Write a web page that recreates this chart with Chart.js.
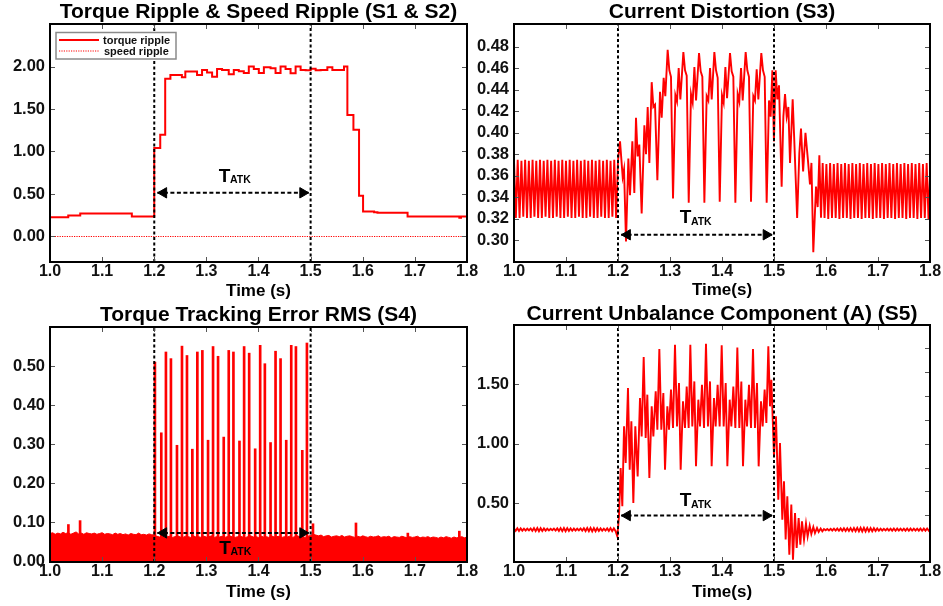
<!DOCTYPE html>
<html>
<head>
<meta charset="utf-8">
<script src="https://cdn.jsdelivr.net/npm/chart.js@4.4.1/dist/chart.umd.min.js"></script>
<style>
html,body{margin:0;padding:0;background:#fff;}
body{width:943px;height:606px;position:relative;overflow:hidden;}
canvas{position:absolute;display:block;}
</style>
</head>
<body>
<canvas id="c1" width="490" height="300" style="left:0;top:0"></canvas>
<canvas id="c2" width="473" height="300" style="left:470px;top:0"></canvas>
<canvas id="c3" width="490" height="306" style="left:0;top:300px"></canvas>
<canvas id="c4" width="473" height="306" style="left:470px;top:300px"></canvas>
<script>
// ---------------- data ----------------
const xTicks = [1.0, 1.1, 1.2, 1.3, 1.4, 1.5, 1.6, 1.7, 1.8];
const attackStart = 1.2;
const attackEnd = 1.5;

// S1 torque ripple (stepped) and S2 speed ripple
const s1Time = [1.0,1.035,1.058,1.157,1.2,1.2115,1.221,1.231,1.253,1.2596,1.2821,1.2917,1.3013,1.311,1.3205,1.3301,1.3429,1.3526,1.3622,1.3718,1.3814,1.391,1.4006,1.4103,1.4231,1.4327,1.4423,1.4519,1.4615,1.4712,1.4808,1.4904,1.5,1.5096,1.5192,1.5321,1.5417,1.564,1.5705,1.5821,1.5929,1.6006,1.6218,1.6282,1.686,1.7853,1.7885,1.8];
const s1Torque = [0.227,0.247,0.27,0.235,1.04,1.196,1.855,1.90,1.875,1.94,1.90,1.96,1.93,1.88,1.97,1.96,1.91,1.96,1.945,1.925,2.00,1.97,1.925,1.99,1.98,1.925,2.00,1.97,1.92,2.00,1.96,1.955,1.975,1.955,1.96,1.99,1.96,2.0,1.43,1.255,0.478,0.294,0.286,0.278,0.235,0.22,0.235,0.235];
const s2Time = [1.0, 1.8];
const s2Speed = [0, 0];
const s1YTicks = [0, 0.5, 1.0, 1.5, 2.0];

// S3 current distortion
const s3Step = 0.00357;
const s3PreStart = 1.0;
const s3PreVals = [0.374,0.321,0.375,0.321,0.374,0.322,0.375,0.321,0.374,0.321,0.375,0.322,0.374,0.321,0.375,0.321,0.374,0.322,0.375,0.321,0.374,0.321,0.375,0.322,0.374,0.321,0.375,0.321,0.374,0.322,0.375,0.321,0.374,0.321,0.375,0.322,0.374,0.321,0.375,0.321,0.374,0.322,0.375,0.321,0.374,0.321,0.375,0.322,0.374,0.321,0.375,0.321,0.374,0.322,0.375,0.321];
const s3AtkTime = [1.2000,1.2039,1.2090,1.2116,1.2154,1.2199,1.2231,1.2276,1.2314,1.2346,1.2378,1.2410,1.2455,1.2507,1.2539,1.2571,1.2603,1.2648,1.2680,1.2712,1.2757,1.2808,1.2840,1.2878,1.2910,1.2955,1.2987,1.3019,1.3058,1.3103,1.3135,1.3167,1.3199,
1.3257,1.3289,1.3321,1.3360,1.3404,1.3436,1.3469,1.3501,
1.3558,1.3590,1.3622,1.3661,1.3705,1.3737,1.3770,1.3802,
1.3853,1.3885,1.3917,1.3956,1.4000,1.4032,1.4065,1.4097,
1.4154,1.4186,1.4218,1.4257,1.4301,1.4333,1.4366,1.4398,
1.4455,1.4487,1.4519,1.4558,1.4602,1.4634,1.4667,1.4699,
1.4756,1.4788,1.4821,1.4859,1.4904,1.4936,1.4968,
1.4999,1.5032,1.5064,1.5096,1.5147,1.5180,1.5212,1.5244,1.5276,1.5308,1.5359,1.5390,1.5445,1.5487,1.5519,1.5560,1.5605,1.5650,1.5692,1.5720,1.5756,1.5808,1.5840,1.5872,1.5904,1.5936];
const s3AtkVals = [0.374,0.392,0.359,0.366,0.299,0.376,0.342,0.392,0.344,0.414,0.378,0.389,0.325,0.407,0.380,0.424,0.372,0.447,0.424,0.426,0.356,0.438,0.414,0.451,0.434,0.477,0.458,0.452,0.339,0.435,0.429,0.460,0.431,
0.475,0.458,0.453,0.335,0.436,0.428,0.461,0.430,
0.474,0.457,0.452,0.335,0.434,0.430,0.460,0.431,
0.475,0.458,0.451,0.336,0.435,0.428,0.461,0.432,
0.474,0.457,0.452,0.335,0.436,0.429,0.460,0.430,
0.475,0.458,0.452,0.336,0.434,0.430,0.459,0.431,
0.474,0.458,0.452,0.335,0.430,0.415,0.458,
0.392,0.458,0.431,0.444,0.350,0.415,0.436,0.415,0.424,0.372,0.431,0.393,0.321,0.381,0.404,0.364,0.400,0.376,0.352,0.372,0.289,0.350,0.331,0.379,0.321,0.372];
const s3PostStart = 1.5972;
const s3PostVals = [0.321,0.371,0.320,0.372,0.321,0.371,0.321,0.372,0.320,0.371,0.321,0.372,0.321,0.371,0.320,0.372,0.321,0.371,0.321,0.372,0.320,0.371,0.321,0.372,0.321,0.371,0.320,0.372,0.321,0.371,0.321,0.372,0.320,0.371,0.321,0.372,0.321,0.371,0.320,0.372,0.321,0.371,0.321,0.372,0.320,0.371,0.321,0.372,0.321,0.371,0.320,0.372,0.321,0.371,0.321,0.372,0.320,0.371];
const s3YTicks = [0.30,0.32,0.34,0.36,0.38,0.40,0.42,0.44,0.46,0.48];

// S4 torque tracking error RMS: noise band envelope + spikes
const s4BandStart = 1.0;
const s4BandStep = 0.005;
const s4BandVals = [0.071,0.073,0.069,0.072,0.070,0.074,0.071,0.073,0.069,0.072,
0.075,0.070,0.072,0.069,0.073,0.071,0.070,0.072,0.069,0.071,
0.073,0.069,0.071,0.070,0.068,0.072,0.069,0.071,0.068,0.070,
0.067,0.071,0.069,0.068,0.072,0.068,0.069,0.067,0.070,0.068,
0.067,
0.064,0.062,0.065,0.061,0.063,0.064,0.061,0.063,0.065,0.062,
0.061,0.064,0.063,0.061,0.065,0.062,0.063,0.061,0.064,0.062,
0.063,0.065,0.061,0.063,0.062,0.064,0.061,0.063,0.065,0.062,
0.061,0.063,0.064,0.062,0.061,0.063,0.065,0.062,0.063,0.061,
0.064,0.062,0.063,0.061,0.065,0.062,0.063,0.064,0.061,0.063,
0.062,0.064,0.061,0.063,0.065,0.062,0.063,0.061,0.064,0.066,
0.069,0.067,0.065,0.067,0.063,0.065,0.066,0.062,0.064,0.065,
0.063,0.066,0.062,0.064,0.065,0.063,0.061,0.064,0.062,0.065,
0.063,0.061,0.064,0.062,0.063,0.065,0.061,0.063,0.062,0.064,
0.060,0.063,0.062,0.061,0.064,0.062,0.060,0.063,0.061,0.062,
0.064,0.060,0.062,0.061,0.063,0.060,0.062,0.061,0.059,0.062,
0.060,0.063,0.061,0.059,0.062,0.060,0.061,0.063,0.060,0.062];
const s4SpikeTime = [1.0353,1.0577,1.2013,1.2135,1.2224,1.2320,1.2436,1.2532,1.2628,1.2731,1.2827,1.2923,1.3032,1.3128,1.3224,1.3333,1.3429,1.3519,1.3635,1.3724,1.3821,1.3936,1.4032,1.4122,1.4231,1.4327,1.4423,1.4532,1.4628,1.4718,1.4840,1.4929,1.5045,1.5870,1.6865,1.7853];
const s4SpikeVals = [0.094,0.104,0.510,0.329,0.536,0.519,0.297,0.551,0.527,0.287,0.536,0.540,0.310,0.550,0.525,0.318,0.540,0.536,0.308,0.550,0.533,0.288,0.553,0.506,0.304,0.538,0.519,0.310,0.553,0.550,0.284,0.559,0.096,0.098,0.072,0.077];
const s4YTicks = [0.0, 0.1, 0.2, 0.3, 0.4, 0.5];

// S5 current unbalance component
const s5Step = 0.0032;
const s5PreStart = 1.0;
const s5PreVals = [0.289,0.270,0.291,0.268,0.290,0.271,0.288,0.272,0.287,0.273,0.289,0.270,0.292,0.267,0.293,0.266,0.291,0.268,0.289,0.271,0.287,0.273,0.286,0.274,0.288,0.272,0.290,0.269,0.292,0.267,0.293,0.266,0.292,0.268,0.290,0.270,0.288,0.272,0.287,0.273,0.289,0.271,0.291,0.268,0.293,0.266,0.294,0.265,0.293,0.266,0.291,0.268,0.289,0.271,0.288,0.272,0.290,0.269,0.292,0.267,0.291,0.268];
const s5AtkTime = [1.1987,1.2019,1.2051,1.2083,1.2116,1.2148,1.2192,1.2225,1.2257,1.2295,1.2333,1.2378,1.2423,1.2455,1.2494,1.2532,1.2564,1.2603,1.2648,1.2680,1.2725,1.2757,1.2795,1.2833,1.2872,1.2904,1.2949,1.2981,1.3019,1.3058,1.3096,1.3135,1.3173,1.3205,
1.3250,1.3288,1.3321,1.3359,
1.3391,1.3429,1.3468,1.3500,1.3545,1.3577,1.3615,1.3654,
1.3692,1.3730,1.3769,1.3801,1.3846,1.3878,1.3916,1.3955,
1.3994,1.4032,1.4071,1.4103,1.4148,1.4180,1.4218,1.4257,
1.4295,1.4333,1.4372,1.4404,1.4449,1.4481,1.4519,1.4558,
1.4596,1.4634,1.4673,1.4705,1.4750,1.4782,1.4820,1.4853,
1.4891,1.4923,1.4949,
1.5000,1.5038,1.5083,1.5115,1.5160,1.5192,1.5224,1.5256,1.5295,1.5333,1.5365,1.5404,1.5436,1.5474,1.5506,1.5538,1.5577,1.5615,1.5647,1.5686,1.5718,1.5756,1.5788,1.5827,1.5859,1.5897,1.5929];
const s5AtkVals = [0.223,0.391,0.796,0.475,1.145,0.838,1.466,0.782,1.187,0.503,1.145,0.726,1.383,1.061,1.726,1.047,1.411,0.712,1.313,1.061,1.439,1.117,1.793,1.117,1.425,0.782,1.313,1.117,1.453,1.131,1.830,1.145,1.508,0.782,
1.355,1.131,1.480,1.131,
1.830,1.145,1.522,0.810,1.369,1.145,1.494,1.131,
1.838,1.145,1.522,0.810,1.383,1.145,1.494,1.145,
1.824,1.145,1.508,0.810,1.369,1.145,1.480,1.131,
1.807,1.131,1.522,0.810,1.369,1.145,1.494,1.131,
1.793,1.131,1.508,0.810,1.355,1.145,1.453,1.173,
1.816,1.313,1.536,
0.894,1.229,0.531,1.006,0.363,0.684,0.196,0.559,0.070,0.489,0.028,0.419,0.126,0.377,0.154,0.349,0.196,0.330,0.223,0.313,0.243,0.302,0.251,0.293,0.260,0.288,0.265];
const s5PostStart = 1.5961;
const s5PostVals = [0.284,0.274,0.285,0.273,0.286,0.272,0.287,0.271,0.288,0.270,0.289,0.269,0.290,0.268,0.291,0.268,0.292,0.267,0.293,0.266,0.294,0.265,0.295,0.264,0.295,0.264,0.294,0.265,0.293,0.266,0.291,0.268,0.289,0.270,0.287,0.272,0.286,0.273,0.287,0.272,0.288,0.271,0.289,0.270,0.288,0.271,0.287,0.272,0.288,0.271,0.289,0.270,0.288,0.271,0.287,0.272,0.288,0.271,0.289,0.270,0.288,0.271,0.289,0.270,0.288];
const s5YTicks = [0.5, 1.0, 1.5];
const s5MinorTicks = [0.4, 0.6, 0.8, 1.0, 1.2, 1.4, 1.6, 1.8];

// ---------------- helpers ----------------
const FONT = "'Liberation Sans', Arial, Helvetica, sans-serif";
const RED = '#ff0000';
const seq = (start, step, vals) => vals.map((v, i) => ({x: start + i * step, y: v}));
const pairs = (ts, vs) => ts.map((t, i) => ({x: t, y: vs[i]}));

function decor(o) {
  return {
    id: 'decor',
    afterDraw(chart) {
      const ctx = chart.ctx, a = chart.chartArea, xs = chart.scales.x, ys = chart.scales.y;
      ctx.save();
      // inward tick marks
      ctx.strokeStyle = '#555'; ctx.lineWidth = 1; ctx.setLineDash([]);
      ctx.beginPath();
      xTicks.forEach(v => {
        const px = Math.round(xs.getPixelForValue(v)) + 0.5;
        ctx.moveTo(px, a.bottom); ctx.lineTo(px, a.bottom - 5);
        ctx.moveTo(px, a.top); ctx.lineTo(px, a.top + 5);
      });
      o.yTicks.forEach(v => {
        const py = Math.round(ys.getPixelForValue(v)) + 0.5;
        ctx.moveTo(a.left, py); ctx.lineTo(a.left + 5, py);
      });
      (o.rightTicks || o.yTicks).forEach(v => {
        const py = Math.round(ys.getPixelForValue(v)) + 0.5;
        ctx.moveTo(a.right, py); ctx.lineTo(a.right - 5, py);
      });
      ctx.stroke();
      // T_ATK label
      const tx = xs.getPixelForValue(o.labelX), ty = ys.getPixelForValue(o.labelY);
      ctx.fillStyle = '#000'; ctx.textBaseline = 'alphabetic'; ctx.textAlign = 'left';
      ctx.font = 'bold 19px ' + FONT; const wT = ctx.measureText('T').width;
      ctx.font = 'bold 10.5px ' + FONT; const wS = ctx.measureText('ATK').width;
      const x0 = tx - (wT + wS) / 2;
      ctx.font = 'bold 19px ' + FONT; ctx.fillText('T', x0, ty);
      ctx.font = 'bold 10.5px ' + FONT; ctx.fillText('ATK', x0 + wT - 0.5, ty + 1.5);
      // legend (panel 1)
      if (o.legend) {
        const lx = a.left + 6, ly = a.top + 8.5;
        ctx.fillStyle = '#fff'; ctx.fillRect(lx, ly, 120, 26.5);
        ctx.strokeStyle = '#8a8a8a'; ctx.lineWidth = 1.5; ctx.strokeRect(lx, ly, 120, 26.5);
        ctx.strokeStyle = RED; ctx.lineWidth = 2; ctx.beginPath();
        ctx.moveTo(lx + 3, ly + 7.5); ctx.lineTo(lx + 43, ly + 7.5); ctx.stroke();
        ctx.lineWidth = 1.2; ctx.setLineDash([1.2, 1.2]); ctx.beginPath();
        ctx.moveTo(lx + 3, ly + 18.5); ctx.lineTo(lx + 43, ly + 18.5); ctx.stroke();
        ctx.setLineDash([]);
        ctx.fillStyle = '#111'; ctx.font = 'bold 11px ' + FONT; ctx.textBaseline = 'middle';
        ctx.fillText(o.legend[0], lx + 47, ly + 8);
        ctx.fillText(o.legend[1], lx + 48, ly + 19);
      }
      // frame
      ctx.strokeStyle = '#000'; ctx.lineWidth = 2; ctx.setLineDash([]);
      ctx.strokeRect(a.left, a.top, a.right - a.left, a.bottom - a.top);
      ctx.restore();
    }
  };
}

function build(id, o) {
  const ann = [
    {data: [{x: attackStart, y: o.yMin}, {x: attackStart, y: o.yMax}], borderColor: '#000', borderWidth: 2, borderDash: [3, 2.5], pointRadius: 0, order: 0},
    {data: [{x: attackEnd, y: o.yMin}, {x: attackEnd, y: o.yMax}], borderColor: '#000', borderWidth: 2, borderDash: [3, 2.5], pointRadius: 0, order: 0},
    {data: [{x: 1.206, y: o.arrowY}, {x: 1.496, y: o.arrowY}], borderColor: '#000', borderWidth: 2, borderDash: [4, 2.5], pointRadius: 0, order: 0},
    {data: [{x: 1.218, y: o.arrowY}, {x: 1.485, y: o.arrowY}], showLine: false, pointStyle: 'triangle', pointRadius: 6, pointRotation: [270, 90], pointBackgroundColor: '#000', pointBorderColor: '#000', pointBorderWidth: 1, order: 0}
  ];
  const xTickFont = {family: FONT, size: 16, weight: 'bold', lineHeight: 1};
  const yTickFont = {family: FONT, size: 16.5, weight: 'bold', lineHeight: 1};
  return new Chart(document.getElementById(id), {
    type: 'line',
    data: {datasets: o.series.concat(ann)},
    options: {
      responsive: false, animation: false, events: [],
      layout: {padding: o.pad},
      elements: {line: {tension: 0}},
      plugins: {
        legend: {display: false}, tooltip: {enabled: false},
        title: {display: true, text: o.title, fullSize: false, color: '#000',
          font: {family: FONT, size: 21, weight: 'bold', lineHeight: 1}, padding: o.titlePad}
      },
      scales: {
        x: {type: 'linear', min: 1.0, max: 1.8, offset: false,
          afterBuildTicks: s => { s.ticks = xTicks.map(v => ({value: v})); },
          ticks: {autoSkip: false, maxRotation: 0, padding: 2, color: '#111', font: xTickFont, callback: v => Number(v).toFixed(1)},
          grid: {display: false, drawTicks: false}, border: {display: false},
          title: {display: true, text: o.xTitle, color: '#000', font: {family: FONT, size: 17, weight: 'bold', lineHeight: 1}, padding: {top: 0, bottom: o.xTitlePadB}},
          afterFit: s => { s.height = o.xH; s.paddingLeft = 0; s.paddingRight = 0; }
        },
        y: {type: 'linear', min: o.yMin, max: o.yMax,
          afterBuildTicks: s => { s.ticks = o.yTicks.map(v => ({value: v})); },
          ticks: {autoSkip: false, padding: 5, color: '#111', font: yTickFont, callback: v => Number(v).toFixed(2)},
          grid: {display: false, drawTicks: false}, border: {display: false},
          afterFit: s => { s.width = o.yW; s.paddingTop = 0; s.paddingBottom = 0; }
        }
      }
    },
    plugins: [decor(o)]
  });
}

// ---------------- panels ----------------
build('c1', {
  title: 'Torque Ripple & Speed Ripple (S1 & S2)', titlePad: {top: 2, bottom: 1},
  xTitle: 'Time (s)', xTitlePadB: 0, xH: 38, yW: 50, pad: {left: 0, right: 23, top: 0, bottom: 0},
  yMin: -0.3, yMax: 2.5, yTicks: s1YTicks,
  arrowY: 0.514, labelX: 1.355, labelY: 0.643,
  legend: ['torque ripple', 'speed ripple'],
  series: [
    {label: 'torque ripple', data: pairs(s1Time, s1Torque), stepped: true, borderColor: RED, borderWidth: 2, pointRadius: 0, order: 10},
    {label: 'speed ripple', data: pairs(s2Time, s2Speed), borderColor: RED, borderWidth: 1.2, borderDash: [1.2, 1.2], pointRadius: 0, order: 10}
  ]
});

build('c2', {
  title: 'Current Distortion (S3)', titlePad: {top: 2, bottom: 1},
  xTitle: 'Time(s)', xTitlePadB: 1, xH: 38, yW: 44, pad: {left: 0, right: 13, top: 0, bottom: 0},
  yMin: 0.28, yMax: 0.501, yTicks: s3YTicks,
  arrowY: 0.3053, labelX: 1.35, labelY: 0.3161,
  series: [
    {label: 'S3', data: seq(s3PreStart, s3Step, s3PreVals).concat(pairs(s3AtkTime, s3AtkVals), seq(s3PostStart, s3Step, s3PostVals)),
     borderColor: RED, borderWidth: 1.9, pointRadius: 0, order: 10}
  ]
});

build('c3', {
  title: 'Torque Tracking Error RMS (S4)', titlePad: {top: 5, bottom: 1},
  xTitle: 'Time (s)', xTitlePadB: 5, xH: 44, yW: 50, pad: {left: 0, right: 23, top: 0, bottom: 0},
  yMin: -0.002, yMax: 0.6, yTicks: s4YTicks,
  arrowY: 0.0725, labelX: 1.356, labelY: 0.0196,
  series: [
    {label: 'S4 band', data: seq(s4BandStart, s4BandStep, s4BandVals), fill: 'origin', backgroundColor: RED, borderColor: RED, borderWidth: 1, pointRadius: 0, order: 10},
    {type: 'bar', label: 'S4 spikes', data: pairs(s4SpikeTime, s4SpikeVals), backgroundColor: RED, borderWidth: 0, barThickness: 2, order: 10}
  ]
});

build('c4', {
  title: 'Current Unbalance Component (A) (S5)', titlePad: {top: 4, bottom: 0},
  xTitle: 'Time(s)', xTitlePadB: 5, xH: 44, yW: 44, pad: {left: 0, right: 13, top: 0, bottom: 0},
  yMin: 0.008, yMax: 1.995, yTicks: s5YTicks, rightTicks: s5MinorTicks,
  arrowY: 0.397, labelX: 1.35, labelY: 0.475,
  series: [
    {label: 'S5', data: seq(s5PreStart, s5Step, s5PreVals).concat(pairs(s5AtkTime, s5AtkVals), seq(s5PostStart, s5Step, s5PostVals)),
     borderColor: RED, borderWidth: 1.9, pointRadius: 0, order: 10}
  ]
});
</script>
</body>
</html>
